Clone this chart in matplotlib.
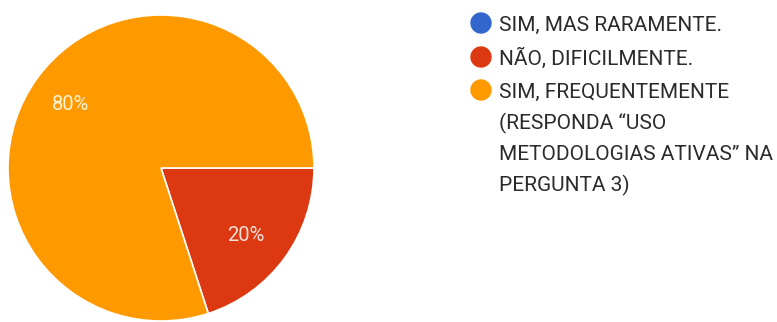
import matplotlib.pyplot as plt
from matplotlib.patches import Circle

# Survey answers (Google Forms style pie)
labels = [
    "SIM, MAS RARAMENTE.",
    "NÃO, DIFICILMENTE.",
    "SIM, FREQUENTEMENTE\n(RESPONDA \u201cUSO\nMETODOLOGIAS ATIVAS\u201d NA\nPERGUNTA 3)",
]
values = [0, 20, 80]
colors = ["#3366CC", "#DC3912", "#FF9900"]

plt.rcParams['font.family'] = ['Roboto', 'DejaVu Sans']

fig = plt.figure(figsize=(7.77, 3.22), dpi=100)
W, H = 777, 322

# pie axes: centre (161,168) px from top-left, radius 153 px
cx, cy, r = 161, 168, 153
ax = fig.add_axes([(cx - r) / W, (H - cy - r) / H, 2 * r / W, 2 * r / H])
nz = [(v, c) for v, c in zip(values, colors) if v > 0]
wedges, _ = ax.pie([v for v, _ in nz], colors=[c for _, c in nz],
                   startangle=0, counterclock=False, radius=1,
                   wedgeprops=dict(edgecolor='white', linewidth=1.2))
ax.set_xlim(-1, 1)
ax.set_ylim(-1, 1)
ax.set_aspect('equal')
ax.axis('off')

ax.text(-0.588, 0.418, "80%", color='#FFF3D6', fontsize=14.5, ha='center', va='center')
ax.text(0.556, -0.438, "20%", color='#F6E0D8', fontsize=14.5, ha='center', va='center')

# legend drawn by hand
lax = fig.add_axes([0, 0, 1, 1])
lax.set_xlim(0, W)
lax.set_ylim(H, 0)
lax.axis('off')
item_y = [23, 57, 90]
for lab, col, y in zip(labels, colors, item_y):
    lax.add_patch(Circle((481, y), 10, color=col))
    for i, line in enumerate(lab.split("\n")):
        lax.text(499, y + 8 + 31 * i, line, fontsize=15, color='#2b2b2b',
                 ha='left', va='baseline')

fig.savefig("out.png", dpi=100)
